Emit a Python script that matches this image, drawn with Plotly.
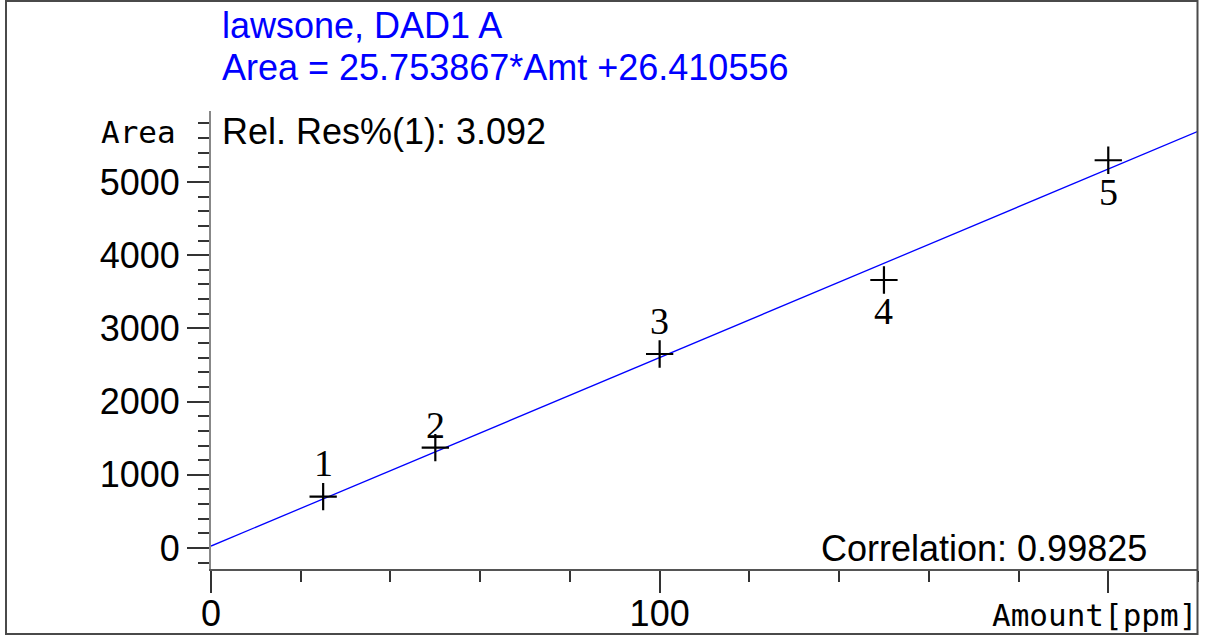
import plotly.graph_objects as go

# ---------------- data ----------------
amount = [25, 50, 100, 150, 200]            # ppm
area = [701, 1370, 2650, 3661, 5297]        # peak area
point_labels = ["1", "2", "3", "4", "5"]
SLOPE = 25.753867
INTERCEPT = 26.410556
REL_RES = "3.092"
CORRELATION = "0.99825"
compound = "lawsone, DAD1 A"
x_tickvals = [0, 100, 200]
x_ticktext = ["0", "100", ""]
y_tickvals = [0, 1000, 2000, 3000, 4000, 5000]
y_ticktext = ["0", "1000", "2000", "3000", "4000", "5000"]

# ---------------- layout geometry (styles) ----------------
W, H = 1216, 639
ML, MR, MT, MB = 211, 18, 111, 70
X_RANGE = [0, 220]
Y_RANGE = [-287, 5970]
PW = W - ML - MR
PH = H - MT - MB

def px(xpix):
    return (xpix - ML) / PW

def py(ypix):
    return (H - MB - ypix) / PH

# label offsets in pixels (positive = downwards)
label_dy = [-33.4, -22.7, -33.2, 30.8, 31.4]

SANS = "Liberation Sans, Arial, sans-serif"
SERIF = "Liberation Serif, Times New Roman, serif"
MONO = "DejaVu Sans Mono, monospace"

fig = go.Figure()

# fitted line from the calibration equation
line_x = [X_RANGE[0], X_RANGE[1]]
line_y = [SLOPE * v + INTERCEPT for v in line_x]
fig.add_trace(go.Scatter(
    x=line_x, y=line_y, mode="lines",
    line=dict(color="#0000FF", width=1.3),
    hoverinfo="skip", showlegend=False,
))

fig.add_trace(go.Scatter(
    x=amount, y=area, mode="markers",
    marker=dict(symbol="cross-thin", size=19.5, color="black",
                line=dict(color="black", width=2.2)),
    showlegend=False,
))

annotations = []
for xv, yv, lab, dy in zip(amount, area, point_labels, label_dy):
    annotations.append(dict(
        x=xv, y=yv, xref="x", yref="y", text=lab, showarrow=False,
        xanchor="center", yanchor="middle", yshift=-dy,
        font=dict(family=SERIF, size=38, color="black"),
    ))

def text_ann(text, xpix, ypix, xanchor, size, color="black", family=SANS):
    return dict(
        x=px(xpix), y=py(ypix), xref="paper", yref="paper", text=text,
        showarrow=False, xanchor=xanchor, yanchor="middle",
        font=dict(family=family, size=size, color=color),
    )

annotations += [
    text_ann(compound, 220, 25.5, "left", 36, "#0000FF"),
    text_ann(f"Area = {SLOPE:.6f}*Amt +{INTERCEPT:.6f}", 220, 68, "left", 36, "#0000FF"),
    text_ann(f"Rel. Res%(1): {REL_RES}", 220, 131.7, "left", 36),
    text_ann("Area", 178, 131.7, "right", 31, family=MONO),
    text_ann(f"Correlation: {CORRELATION}", 1149, 548.7, "right", 36),
    text_ann("Amount[ppm]", 1199, 615, "right", 31, family=MONO),
]

fig.update_layout(
    width=W, height=H,
    margin=dict(l=ML, r=MR, t=MT, b=MB, pad=0, autoexpand=False),
    paper_bgcolor="white", plot_bgcolor="white",
    showlegend=False,
    annotations=annotations,
    shapes=[dict(
        type="rect", xref="paper", yref="paper",
        x0=px(6), x1=px(1197.5), y0=py(634), y1=py(1),
        line=dict(color="#4a4a4a", width=2), fillcolor="rgba(0,0,0,0)",
        layer="above",
    )],
)

fig.update_xaxes(
    range=X_RANGE, showgrid=False, zeroline=False, automargin=False,
    showline=True, linecolor="#555555", linewidth=1.5,
    tickmode="array", tickvals=x_tickvals, ticktext=x_ticktext,
    ticks="outside", ticklen=22, tickwidth=1.5, tickcolor="#333333",
    ticklabelstandoff=-10,
    tickfont=dict(family=SANS, size=36, color="black"),
    minor=dict(ticks="outside", ticklen=11, tickwidth=1.5, tickcolor="#333333",
               tickmode="linear", tick0=0, dtick=20, showgrid=False),
)
fig.update_yaxes(
    range=Y_RANGE, showgrid=False, zeroline=False, automargin=False,
    showline=True, linecolor="#888888", linewidth=2,
    tickmode="array", tickvals=y_tickvals, ticktext=y_ticktext,
    ticks="outside", ticklen=22, tickwidth=1.5, tickcolor="#333333",
    tickfont=dict(family=SANS, size=36, color="black"),
    minor=dict(ticks="outside", ticklen=11, tickwidth=1.5, tickcolor="#333333",
               tickmode="linear", tick0=0, dtick=200, showgrid=False),
)

fig.write_html("out.html")
